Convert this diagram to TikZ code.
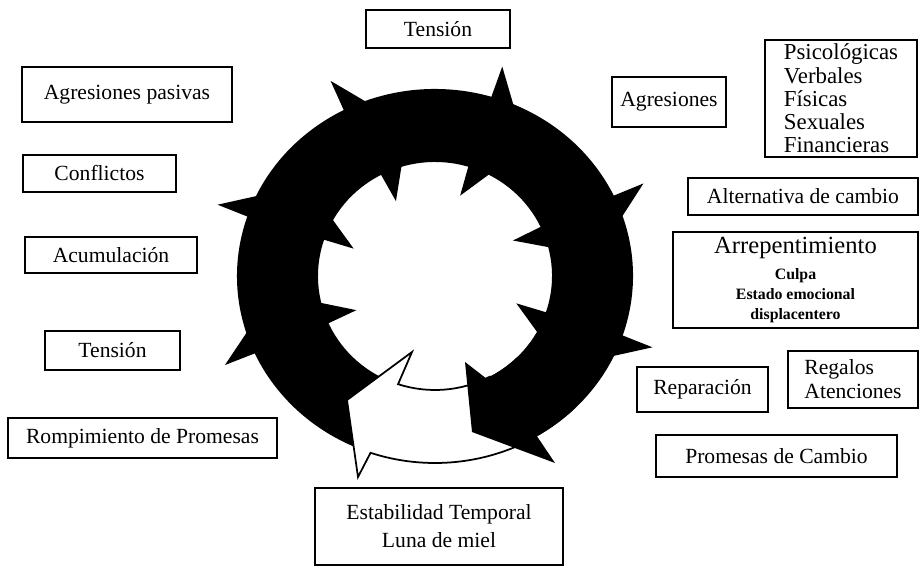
\documentclass[tikz,border=0pt]{standalone}
\usepackage{fontspec}
\setmainfont{Liberation Serif}
\usetikzlibrary{calc}
\def\anillo{\fill[black]}
\def\chica{\fontsize{9}{11.4}\selectfont\bfseries}
\tikzset{
  caja/.style={draw, line width=0.9pt, inner sep=0pt, align=center,
    font=\fontsize{12.3}{15}\selectfont},
  med/.style 2 args={minimum width=#1*0.02cm, minimum height=#2*0.02cm},
}

\begin{document}
\begin{tikzpicture}[x=0.02cm,y=0.02cm]
\useasboundingbox (0,0) rectangle (920,568);
\coordinate (c) at (435,292);
\anillo ($(c)+(-59:198 and 187)$) arc[start angle=-59, end angle=248, x radius=198, y radius=187]
  -- ($(c)+(248:117 and 114)$) arc[start angle=248, end angle=-64, x radius=117, y radius=114] -- cycle;
\foreach \a in {204,161,117,73,25,-19}{
  \anillo ($(c)+({\a-7}:195 and 184)$) -- ($(c)+(\a:230 and 219)$) -- ($(c)+({\a+0.5}:195 and 184)$) -- cycle;
  \anillo ($(c)+({\a-11}:120 and 117)$) -- ($(c)+(\a:86 and 84)$) -- ($(c)+({\a+0.5}:120 and 117)$) -- cycle;
}
\draw[line width=1pt, fill=white] ($(c)+(-62:198 and 187)$) arc[start angle=-62, end angle=-109, x radius=198, y radius=187]
  -- ($(c)+(-77,-201)$) -- ($(c)+(-88,-124)$) -- ($(c)+(-23,-76)$) -- ($(c)+(-108.4:117 and 114)$)
  arc[start angle=-108.4, end angle=-62, x radius=117, y radius=114] -- cycle;
\anillo ($(c)+(-45:198 and 187)$) arc[start angle=-45, end angle=-59, x radius=198, y radius=187]
  -- ($(c)+(120,-187)$) -- ($(c)+(37,-156)$) -- ($(c)+(30,-86)$) -- ($(c)+(-64:117 and 114)$)
  arc[start angle=-64, end angle=-45, x radius=117, y radius=114] -- cycle;

\node[caja, med={144}{38}] (tensionarriba) at (438,539) {Tensión};
\node[caja, med={210}{55}] (pasivas) at (127,473.5) {Agresiones pasivas};
\node[caja, med={153}{37}] (conflictos) at (99.5,394.5) {Conflictos};
\node[caja, med={172}{36}] (acumulacion) at (111,313) {Acumulación};
\node[caja, med={135}{39}] (tensionizq) at (112.5,217.5) {Tensión};
\node[caja, med={269}{40}] (rompimiento) at (142.5,130) {Rompimiento de Promesas};
\node[caja, med={248}{77}, font=\fontsize{12.3}{16}\selectfont] (estabilidad) at (439,41.5) {Estabilidad Temporal\\Luna de miel};
\node[caja, med={114}{50}] (agresiones) at (669,466) {Agresiones};
\node[caja, med={152}{117}, align=left, font=\fontsize{13}{13.2}\selectfont] (tipos) at (841,469.5)
  {Psicológicas\\Verbales\\Físicas\\Sexuales\\Financieras};
\node[caja, med={230}{37}] (alternativa) at (803,371.5) {Alternativa de cambio};
\node[caja, med={245}{96}, font=\fontsize{14}{11.4}\selectfont] (arrepentimiento) at (795.5,288)
  {Arrepentimiento\\[3pt]{\chica Culpa}\\{\chica Estado emocional}\\{\chica displacentero}};
\node[caja, med={131}{45}] (reparacion) at (702.5,178.5) {Reparación};
\node[caja, med={130}{57}, align=left, font=\fontsize{12.3}{13.6}\selectfont] (regalos) at (853,188.5) {Regalos\\Atenciones};
\node[caja, med={241}{42}] (promesas) at (776.5,112) {Promesas de Cambio};
\end{tikzpicture}
\end{document}
